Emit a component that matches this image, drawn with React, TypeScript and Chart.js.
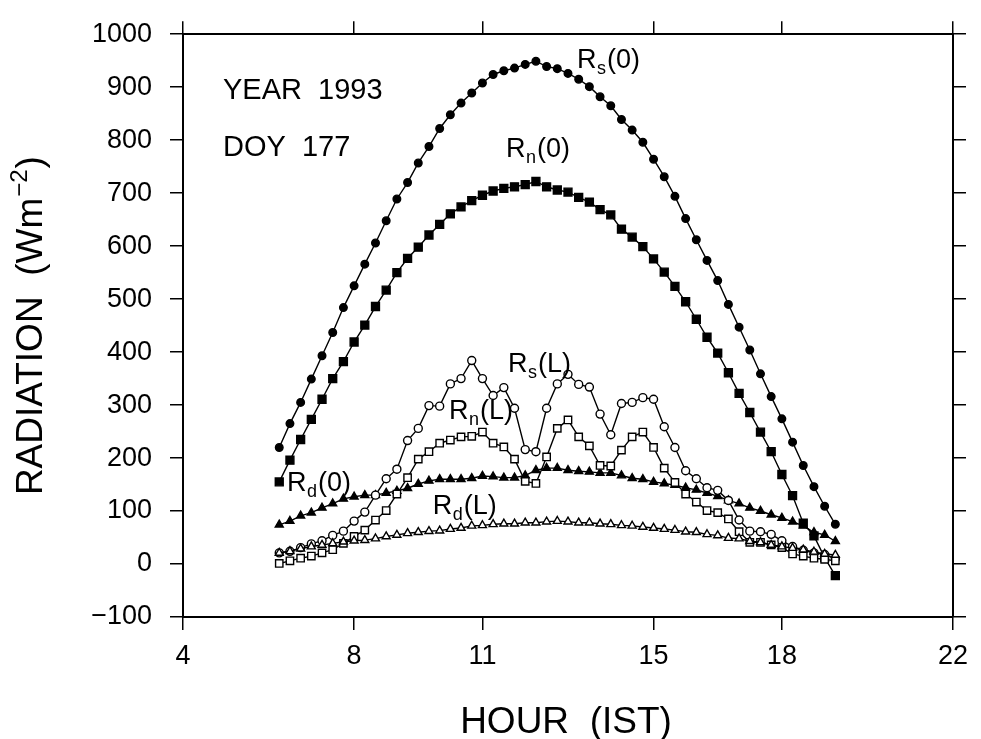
import { useEffect, useRef } from "react";
import { Chart, registerables } from "chart.js";

Chart.register(...registerables);

const FONT = '"Liberation Sans", Arial, Helvetica, sans-serif';

// Time of day (IST hours), one reading every 15 minutes
const hours = [
  6.25, 6.5, 6.75, 7, 7.25, 7.5, 7.75, 8, 8.25, 8.5, 8.75, 9, 9.25, 9.5, 9.75,
  10, 10.25, 10.5, 10.75, 11, 11.25, 11.5, 11.75, 12, 12.25, 12.5, 12.75, 13,
  13.25, 13.5, 13.75, 14, 14.25, 14.5, 14.75, 15, 15.25, 15.5, 15.75, 16, 16.25,
  16.5, 16.75, 17, 17.25, 17.5, 17.75, 18, 18.25, 18.5, 18.75, 19, 19.25,
];

const rs0 = [
  220, 265, 305, 349, 393, 437, 484, 525, 566, 606, 648, 689, 720, 757, 788,
  822, 848, 870, 889, 908, 924, 931, 936, 943, 949, 939, 935, 926, 915, 901,
  882, 865, 839, 819, 796, 764, 731, 694, 652, 612, 573, 535, 490, 447, 404,
  359, 316, 274, 230, 186, 146, 109, 75,
];

const rn0 = [
  155, 196, 235, 273, 311, 350, 382, 419, 451, 486, 517, 550, 577, 598, 621,
  641, 661, 674, 686, 696, 704, 709, 712, 716, 722, 712, 706, 702, 692, 683,
  669, 659, 632, 617, 599, 576, 551, 524, 495, 462, 428, 398, 361, 322, 286,
  249, 212, 169, 129, 77, 53, 12, -22,
];

const rd0 = [
  74, 81, 91, 97, 106, 114, 123, 127, 130, 130, 134, 138, 143, 151, 157, 160,
  160, 160, 162, 166, 165, 163, 163, 167, 177, 181, 181, 177, 175, 174, 172,
  172, 167, 162, 160, 155, 152, 149, 144, 140, 134, 128, 120, 114, 106, 100, 93,
  87, 80, 72, 60, 55, 43,
];

const rsL = [
  21, 24, 31, 38, 44, 54, 62, 81, 98, 130, 161, 179, 233, 256, 299, 298, 340,
  350, 384, 350, 318, 333, 294, 216, 212, 294, 340, 358, 339, 334, 283, 244,
  303, 305, 314, 311, 259, 220, 176, 161, 144, 139, 120, 83, 62, 61, 56, 44, 33,
  26, 21, 18, 10,
];

const rnL = [
  1, 6, 11, 15, 21, 27, 39, 52, 64, 83, 101, 132, 163, 198, 212, 228, 234, 240,
  241, 249, 228, 221, 198, 156, 152, 202, 256, 272, 240, 223, 186, 185, 215,
  240, 249, 220, 181, 154, 132, 117, 101, 97, 85, 61, 41, 41, 36, 31, 19, 15,
  11, 9, 6,
];

const rdL = [
  21, 24, 29, 33, 36, 39, 42, 44, 45, 48, 52, 55, 58, 60, 62, 63, 66, 68, 72,
  73, 75, 76, 76, 78, 78, 80, 81, 80, 78, 78, 76, 75, 73, 72, 70, 68, 66, 64,
  61, 60, 56, 54, 49, 48, 43, 41, 36, 33, 30, 27, 23, 19, 17,
];

const xTicks = [4, 8, 11, 15, 18, 22];
const yMin = -100;
const yMax = 1000;
const yStep = 100;

// Curve labels: main letter, subscript, tail, anchored at (hour, value) = left/baseline
const curveMain = ["R", "R", "R", "R", "R", "R"];
const curveSub = ["s", "n", "s", "n", "d", "d"];
const curveTail = ["(0)", "(0)", "(L)", "(L)", "(0)", "(L)"];
const curveX = [13.21, 11.55, 11.6, 10.22, 6.43, 9.84];
const curveY = [937, 768, 363, 274, 137, 94];

const noteText = ["YEAR  1993", "DOY  177"];
const noteX = [4.935, 4.935];
const noteY = [878, 770];

const xTitle = "HOUR  (IST)";
const yTitleMain = "RADIATION  (Wm";
const yTitleSup = "\u22122";
const yTitleTail = ")";

const textPlugin = {
  id: "textPlugin",
  afterDatasetsDraw(chart: any) {
    const ctx = chart.ctx as CanvasRenderingContext2D;
    const xs = chart.scales.x;
    const ys = chart.scales.y;
    ctx.save();
    ctx.fillStyle = "#000";
    ctx.textAlign = "left";
    ctx.textBaseline = "alphabetic";
    // notes
    ctx.font = `29px ${FONT}`;
    noteText.forEach((t, i) => {
      ctx.fillText(t, xs.getPixelForValue(noteX[i]), ys.getPixelForValue(noteY[i]));
    });
    // curve labels with subscripts
    curveMain.forEach((m, i) => {
      const x = xs.getPixelForValue(curveX[i]);
      const y = ys.getPixelForValue(curveY[i]);
      ctx.font = `27px ${FONT}`;
      ctx.fillText(m, x, y);
      let w = ctx.measureText(m).width;
      ctx.font = `18px ${FONT}`;
      ctx.fillText(curveSub[i], x + w + 0.5, y + 6);
      w += ctx.measureText(curveSub[i]).width + 1.5;
      ctx.font = `27px ${FONT}`;
      ctx.fillText(curveTail[i], x + w, y);
    });
    // x title
    const area = chart.chartArea;
    ctx.font = `37px ${FONT}`;
    ctx.textAlign = "center";
    ctx.fillText(xTitle, (area.left + area.right) / 2 - 2, 733);
    // y title (rotated, with superscript)
    ctx.textAlign = "left";
    ctx.translate(42, (area.top + area.bottom) / 2);
    ctx.rotate(-Math.PI / 2);
    ctx.font = `37px ${FONT}`;
    const w1 = ctx.measureText(yTitleMain).width;
    const w3 = ctx.measureText(yTitleTail).width;
    ctx.font = `24px ${FONT}`;
    const w2 = ctx.measureText(yTitleSup).width;
    const total = w1 + w2 + w3 + 2;
    let px = -total / 2;
    ctx.font = `37px ${FONT}`;
    ctx.fillText(yTitleMain, px, 0);
    px += w1 + 1;
    ctx.font = `24px ${FONT}`;
    ctx.fillText(yTitleSup, px, -15);
    px += w2 + 1;
    ctx.font = `37px ${FONT}`;
    ctx.fillText(yTitleTail, px, 0);
    ctx.restore();
  },
};

function series(vals: number[]) {
  return vals.map((v, i) => ({ x: hours[i], y: v }));
}

const axisGrid = {
  drawOnChartArea: false,
  drawTicks: true,
  tickLength: 13,
  color: "#000",
  lineWidth: 1.5,
};
const axisBorder = { display: true, color: "#000", width: 2 };

export default function App() {
  const ref = useRef<HTMLCanvasElement | null>(null);

  useEffect(() => {
    if (!ref.current) return;
    const mk = (
      label: string,
      vals: number[],
      style: string,
      radius: number,
      filled: boolean
    ) => ({
      label,
      data: series(vals),
      borderColor: "#000",
      borderWidth: 1.4,
      tension: 0,
      fill: false,
      pointStyle: style,
      pointRadius: radius,
      pointBorderWidth: 1.4,
      pointBorderColor: "#000",
      pointBackgroundColor: filled ? "#000" : "#fff",
    });

    const chart = new Chart(ref.current, {
      type: "line",
      data: {
        datasets: [
          mk("Rd(L)", rdL, "triangle", 4.6, false),
          mk("Rn(L)", rnL, "rect", 5.2, false),
          mk("Rs(L)", rsL, "circle", 4, false),
          mk("Rd(0)", rd0, "triangle", 4.6, true),
          mk("Rn(0)", rn0, "rect", 5.6, true),
          mk("Rs(0)", rs0, "circle", 3.8, true),
        ] as any,
      },
      options: {
        animation: false,
        responsive: false,
        devicePixelRatio: 1,
        events: [],
        layout: { padding: { top: 23, right: 28, bottom: 0, left: 0 } },
        plugins: {
          legend: { display: false },
          tooltip: { enabled: false },
        },
        scales: {
          x: {
            type: "linear",
            position: "bottom",
            min: 4,
            max: 22,
            afterBuildTicks: (s: any) => {
              s.ticks = xTicks.map((v) => ({ value: v }));
            },
            afterFit: (s: any) => {
              s.height = 122;
            },
            ticks: {
              color: "#000",
              font: { family: FONT, size: 27, lineHeight: 1 },
              padding: 13,
              maxRotation: 0,
              autoSkip: false,
              callback: (v: any) => String(v),
            },
            grid: axisGrid,
            border: axisBorder,
          },
          x2: {
            type: "linear",
            position: "top",
            min: 4,
            max: 22,
            afterBuildTicks: (s: any) => {
              s.ticks = xTicks.map((v) => ({ value: v }));
            },
            afterFit: (s: any) => {
              s.height = 0;
            },
            ticks: { display: false },
            grid: axisGrid,
            border: axisBorder,
          },
          y: {
            type: "linear",
            position: "left",
            min: yMin,
            max: yMax,
            afterFit: (s: any) => {
              s.width = 183;
            },
            ticks: {
              stepSize: yStep,
              color: "#000",
              font: { family: FONT, size: 27 },
              padding: 18,
              autoSkip: false,
              callback: (v: any) =>
                Number(v) < 0 ? "\u2212" + Math.abs(Number(v)) : String(v),
            },
            grid: axisGrid,
            border: axisBorder,
          },
          y2: {
            type: "linear",
            position: "right",
            min: yMin,
            max: yMax,
            afterFit: (s: any) => {
              s.width = 0;
            },
            ticks: { stepSize: yStep, display: false },
            grid: axisGrid,
            border: axisBorder,
          },
        },
      } as any,
      plugins: [textPlugin],
    });
    return () => chart.destroy();
  }, []);

  return (
    <div style={{ position: "absolute", left: 0, top: 0, width: 981, height: 739, background: "#fff" }}>
      <canvas ref={ref} width={981} height={739} style={{ display: "block" }} />
    </div>
  );
}
